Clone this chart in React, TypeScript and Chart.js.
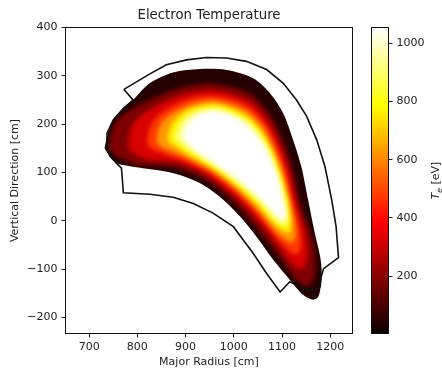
import React, { useEffect, useRef } from "react";
import { Chart, registerables } from "chart.js";

Chart.register(...registerables);

// ---------- text ----------
const TITLE = "Electron Temperature";
const X_LABEL = "Major Radius [cm]";
const Y_LABEL = "Vertical Direction [cm]";

// ---------- axes ----------
const X_RANGE = [651, 1246];
const Y_RANGE = [-233, 400];
const X_TICKS = [700, 800, 900, 1000, 1100, 1200];
const Y_TICKS = [-200, -100, 0, 100, 200, 300, 400];
const CBAR_RANGE = [3, 1054];
const CBAR_TICKS = [200, 400, 600, 800, 1000];

// matplotlib "hot" colormap anchor points [position, r, g, b]
const HOT_STOPS = [
  [0, 0.0416, 0, 0],
  [0.365079, 1, 0, 0],
  [0.746032, 1, 1, 0],
  [1, 1, 1, 1],
];

// ---------- temperature field: filled contours (outer -> inner), value of each band in eV ----------
const BAND_VALUES = [45, 185, 325, 475, 625, 765, 895, 1000, 1054];

const EDGE = [[732,150],[737,174],[746,202],[764,226],[791,250],[826,285],[874,307],[930,314],[985,312],[1040,295],[1075,264],[1102,223],[1123,167],[1140,112],[1154,43],[1168,-26],[1179,-74],[1182,-102],[1180,-136],[1175,-157],[1165,-163],[1151,-158],[1137,-147],[1116,-122],[1082,-81],[1047,-33],[1013,9],[971,50],[930,78],[888,95],[840,105],[791,112],[757,119],[743,133]];
const C120 = [[740,151],[745,178],[755,205],[783,228],[832,254],[888,275],[943,284],[997,277],[1038,260],[1077,218],[1103,163],[1122,107],[1139,32],[1164,-43],[1168,-112],[1153,-135],[1129,-121],[1097,-78],[1048,-16],[995,43],[937,87],[873,111],[799,116],[757,133]];
const C250 = [[780,157],[784,181],[793,204],[816,224],[854,246],[901,263],[948,270],[997,262],[1035,246],[1071,207],[1095,158],[1114,105],[1130,35],[1149,-28],[1152,-81],[1140,-100],[1121,-90],[1094,-55],[1050,0],[999,53],[944,94],[885,120],[821,127],[788,142]];
const C400 = [[819,164],[823,184],[831,203],[846,220],[874,238],[911,253],[953,259],[998,251],[1033,234],[1066,199],[1089,154],[1107,104],[1123,37],[1136,-15],[1139,-55],[1129,-70],[1115,-62],[1092,-39],[1051,11],[1002,60],[948,100],[893,126],[848,141],[825,152]];
const C550 = [[839,167],[843,186],[850,203],[864,217],[889,232],[920,244],[957,249],[998,240],[1031,224],[1062,191],[1083,150],[1101,102],[1117,39],[1126,-4],[1128,-33],[1120,-45],[1109,-40],[1090,-26],[1051,20],[1004,66],[952,104],[900,131],[862,147],[844,157]];
const C700 = [[862,170],[866,187],[873,203],[884,215],[901,228],[928,237],[960,241],[999,231],[1029,215],[1058,184],[1078,147],[1096,101],[1112,41],[1118,5],[1118,-16],[1113,-25],[1105,-22],[1089,-12],[1052,29],[1006,72],[956,109],[907,136],[877,155],[865,163]];
const C830 = [[877,173],[881,188],[887,202],[897,213],[911,224],[934,232],[963,235],[999,224],[1028,208],[1055,179],[1075,145],[1092,100],[1108,42],[1112,11],[1112,-4],[1108,-12],[1102,-10],[1087,-2],[1053,37],[1008,77],[959,112],[913,140],[887,160],[879,167]];
const C960 = [[889,174],[892,189],[898,202],[907,211],[919,220],[940,226],[966,228],[1000,217],[1026,202],[1052,174],[1071,142],[1088,99],[1103,44],[1108,15],[1108,4],[1104,-2],[1100,-1],[1086,9],[1054,44],[1010,81],[962,116],[919,144],[895,164],[890,169]];
const CORE = [[899,181],[912,205],[936,221],[971,223],[1006,209],[1040,181],[1068,140],[1089,91],[1102,36],[1106,12],[1099,5],[1082,22],[1054,50],[1013,85],[964,119],[923,147],[902,167]];

// ---------- vessel wall outline ----------
const WALL = [[772,272],[826,304],[860,323],[902,333],[943,338],[985,337],[1026,330],[1068,313],[1102,285],[1130,250],[1151,216],[1172,167],[1189,112],[1203,43],[1212,-12],[1217,-76],[1186,-99],[1181,-116],[1179,-136],[1168,-143],[1151,-143],[1137,-136],[1116,-126],[1096,-147],[1068,-109],[1040,-67],[999,-12],[957,16],[916,36],[874,49],[826,55],[771,58],[767,109],[757,119],[743,134],[736,154],[737,181],[750,209],[771,233],[791,250]];

const TEXT_COLOR = "#222";
const FONT = "DejaVu Sans";

function hotRGB(v: number): number[] {
  const t = Math.min(1, Math.max(0, (v - CBAR_RANGE[0]) / (CBAR_RANGE[1] - CBAR_RANGE[0])));
  for (let i = 1; i < HOT_STOPS.length; i++) {
    const a = HOT_STOPS[i - 1];
    const b = HOT_STOPS[i];
    if (t <= b[0]) {
      const f = (t - a[0]) / (b[0] - a[0]);
      return [1, 2, 3].map((k) => Math.round((a[k] + (b[k] - a[k]) * f) * 255));
    }
  }
  return [255, 255, 255];
}
function hot(v: number): string {
  const [r, g, b] = hotRGB(v);
  return `rgb(${r},${g},${b})`;
}
function stopColor(s: number[]): string {
  return `rgb(${Math.round(s[1] * 255)},${Math.round(s[2] * 255)},${Math.round(s[3] * 255)})`;
}
const fmt = (v: number) => (v < 0 ? "\u2212" + Math.abs(v) : String(v));

const closed = (pts: number[][]) => [...pts, pts[0]].map(([x, y]) => ({ x, y }));

export default function App() {
  const mainRef = useRef<HTMLCanvasElement>(null);
  const cbRef = useRef<HTMLCanvasElement>(null);

  useEffect(() => {
    Chart.defaults.font.family = FONT;
    Chart.defaults.color = TEXT_COLOR;

    const contours = [EDGE, C120, C250, C400, C550, C700, C830, C960, CORE];
    const datasets: any[] = contours.map((pts, i) => ({
      data: closed(pts),
      showLine: true,
      fill: "shape",
      backgroundColor: hot(BAND_VALUES[i]),
      borderColor: hot(BAND_VALUES[i]),
      borderWidth: 0,
      pointRadius: 0,
      tension: 0.3,
      order: 20 - i,
    }));
    const wallIndex = datasets.length;
    datasets.push({
      data: closed(WALL),
      showLine: true,
      fill: false,
      borderColor: "#111",
      borderWidth: 1.6,
      pointRadius: 0,
      tension: 0,
      order: 0,
    });

    // soft transitions between the inner temperature bands (like a continuous field)
    const smoothPlugin = {
      id: "smooth",
      afterDatasetDraw(chart: any, args: any) {
        if (args.index === 0) chart.ctx.filter = "blur(2px)";
      },
      beforeDatasetDraw(chart: any, args: any) {
        if (args.index === wallIndex) chart.ctx.filter = "none";
      },
      afterDatasetsDraw(chart: any) {
        chart.ctx.filter = "none";
      },
    };

    const framePlugin = {
      id: "frame",
      afterDatasetsDraw(chart: any) {
        const { ctx, chartArea: ca } = chart;
        ctx.save();
        ctx.filter = "none";
        ctx.strokeStyle = "#111";
        ctx.lineWidth = 1;
        ctx.strokeRect(ca.left, ca.top, ca.right - ca.left, ca.bottom - ca.top);
        ctx.restore();
      },
    };

    const tickFont = { size: 11, family: FONT };
    const grid = { drawOnChartArea: false, drawTicks: true, tickLength: 4, color: "#222" };

    const main = new Chart(mainRef.current!, {
      type: "scatter",
      data: { datasets },
      options: {
        responsive: false,
        animation: false,
        events: [],
        layout: { padding: { top: 0, right: 3.5, bottom: 0, left: 0 } },
        plugins: {
          legend: { display: false },
          tooltip: { enabled: false },
          title: {
            display: true,
            text: TITLE,
            fullSize: false,
            color: TEXT_COLOR,
            font: { size: 13.3, weight: "normal", family: FONT },
            padding: { top: 8, bottom: 3.54 },
          },
        },
        scales: {
          x: {
            type: "linear",
            min: X_RANGE[0],
            max: X_RANGE[1],
            afterBuildTicks: (s: any) => { s.ticks = X_TICKS.map((value) => ({ value })); },
            afterFit: (s: any) => { s.height = 35.5; },
            grid,
            border: { display: false },
            ticks: { padding: 3, font: tickFont, color: TEXT_COLOR, maxRotation: 0, autoSkip: false, callback: (v: any) => fmt(v) },
            title: { display: true, text: X_LABEL, color: TEXT_COLOR, font: tickFont, padding: { top: 0, bottom: 0.7 } },
          },
          y: {
            type: "linear",
            min: Y_RANGE[0],
            max: Y_RANGE[1],
            afterBuildTicks: (s: any) => { s.ticks = Y_TICKS.map((value) => ({ value })); },
            afterFit: (s: any) => { s.width = 65.5; },
            grid,
            border: { display: false },
            ticks: { padding: 4, font: tickFont, color: TEXT_COLOR, autoSkip: false, callback: (v: any) => fmt(v) },
            title: { display: true, text: Y_LABEL, color: TEXT_COLOR, font: tickFont, padding: { top: 8.4, bottom: 0 } },
          },
        },
      } as any,
      plugins: [smoothPlugin, framePlugin],
    });

    const cbLabelPlugin = {
      id: "cbLabel",
      afterDraw(chart: any) {
        const { ctx, chartArea: ca } = chart;
        ctx.save();
        ctx.translate(95, (ca.top + ca.bottom) / 2);
        ctx.rotate(-Math.PI / 2);
        ctx.fillStyle = TEXT_COLOR;
        ctx.textBaseline = "alphabetic";
        const fT = `italic 11px "${FONT}"`;
        const fe = `italic 7.7px "${FONT}"`;
        const fr = `11px "${FONT}"`;
        ctx.font = fT; const wT = ctx.measureText("T").width;
        ctx.font = fe; const we = ctx.measureText("e").width;
        ctx.font = fr; const wr = ctx.measureText(" [eV]").width;
        let x = -(wT + we + wr) / 2;
        const base = 4;
        ctx.font = fT; ctx.fillText("T", x, base); x += wT;
        ctx.font = fe; ctx.fillText("e", x, base + 2.5); x += we;
        ctx.font = fr; ctx.fillText(" [eV]", x, base);
        ctx.restore();
      },
      afterDatasetsDraw: framePlugin.afterDatasetsDraw,
    };

    const cbar = new Chart(cbRef.current!, {
      type: "bar",
      data: {
        labels: [""],
        datasets: [
          {
            data: [[CBAR_RANGE[0], CBAR_RANGE[1]]],
            barPercentage: 1,
            categoryPercentage: 1,
            borderWidth: 0,
            backgroundColor: (c: any) => {
              const chart = c.chart;
              if (!chart.chartArea) return "#000";
              const ys = chart.scales.y;
              const g = chart.ctx.createLinearGradient(0, ys.getPixelForValue(CBAR_RANGE[0]), 0, ys.getPixelForValue(CBAR_RANGE[1]));
              HOT_STOPS.forEach((s) => g.addColorStop(s[0], stopColor(s)));
              return g;
            },
          },
        ],
      },
      options: {
        responsive: false,
        animation: false,
        events: [],
        layout: { padding: { left: 31.5, top: 27.5, bottom: 35.5, right: 0 } },
        plugins: { legend: { display: false }, tooltip: { enabled: false }, title: { display: false } },
        scales: {
          x: { display: false },
          y: {
            position: "right",
            min: CBAR_RANGE[0],
            max: CBAR_RANGE[1],
            afterBuildTicks: (s: any) => { s.ticks = CBAR_TICKS.map((value) => ({ value })); },
            afterFit: (s: any) => { s.width = 53.5; },
            grid,
            border: { display: false },
            ticks: { padding: 4, font: tickFont, color: TEXT_COLOR, autoSkip: false, callback: (v: any) => String(v) },
          },
        },
      } as any,
      plugins: [cbLabelPlugin],
    });

    return () => {
      main.destroy();
      cbar.destroy();
    };
  }, []);

  return (
    <div style={{ position: "fixed", left: 0, top: 0, width: 442, height: 369, background: "#fff" }}>
      <canvas ref={mainRef} width={356} height={369} style={{ position: "absolute", left: 0, top: 0, width: 356, height: 369 }} />
      <canvas ref={cbRef} width={102} height={369} style={{ position: "absolute", left: 340, top: 0, width: 102, height: 369 }} />
    </div>
  );
}
